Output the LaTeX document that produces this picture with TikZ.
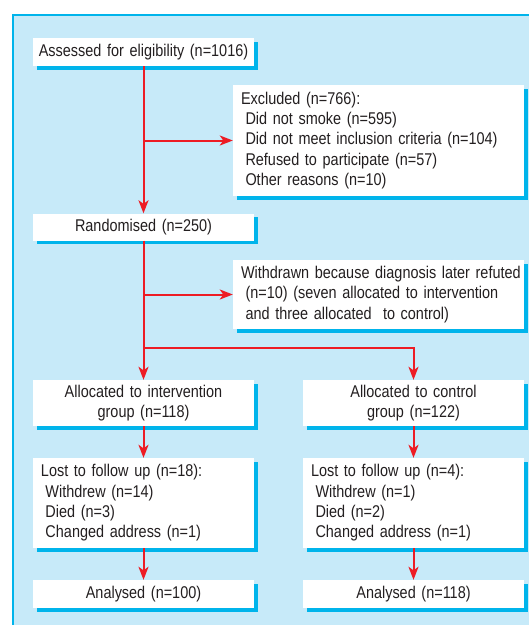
\documentclass[tikz,border=0pt]{standalone}
\usepackage{fontspec}
\setmainfont{Liberation Sans}[FakeStretch=0.85]
\usetikzlibrary{arrows.meta,shadows}
\definecolor{bgblue}{RGB}{199,234,249}
\definecolor{edgecyan}{RGB}{0,180,235}
\definecolor{flowred}{RGB}{237,28,36}
\definecolor{inkgrey}{RGB}{35,31,32}
\newcommand{\ind}{\hspace*{4.5pt}}
\hyphenpenalty=10000

\begin{document}
\begin{tikzpicture}[x=1pt,y=-1pt,
	box/.style={fill=white, inner ysep=0pt, text=inkgrey,
		font=\fontsize{17}{20.3}\selectfont,
		drop shadow={shadow xshift=4pt, shadow yshift=-3.5pt, fill=edgecyan, opacity=1}},
	narrowbox/.style={box, inner xsep=5pt, minimum width=221pt, text width=211pt, align=center},
	listbox/.style={box, inner xsep=8pt, minimum width=221pt, text width=205pt, align=left},
	widebox/.style={box, inner xsep=8pt, minimum width=291pt, text width=275pt, align=left},
	arr/.style={draw=flowred, line width=2pt, -{Stealth[length=13pt,width=10pt,inset=3.5pt]}}]
	% panel
	\useasboundingbox (0,0) rectangle (529,625);
	\fill[bgblue] (13,15) rectangle (529,625);
	\draw[edgecyan, line width=1.2pt] (13,625) -- (13,15) -- (529,15);
	% boxes
	\node[narrowbox, minimum height=28pt] (assess) at (143.5,52) {Assessed for eligibility (n=1016)};
	\node[widebox, minimum height=111pt] (excl) at (378.5,140.5) {Excluded (n=766):\\
		\ind Did not smoke (n=595)\\
		\ind Did not meet inclusion criteria (n=104)\\
		\ind Refused to participate (n=57)\\
		\ind Other reasons (n=10)};
	\node[narrowbox, minimum height=27pt] (rand) at (143.5,227) {Randomised (n=250)};
	\node[widebox, minimum height=69pt] (withdr) at (378.5,294.5) {\mbox{Withdrawn because diagnosis later refuted}\\
		\ind\mbox{(n=10) (seven allocated to intervention}\\
		\ind and three allocated\ \ to control)};
	\node[narrowbox, minimum height=46pt] (allocI) at (143.5,403) {Allocated to intervention\\group (n=118)};
	\node[narrowbox, minimum height=46pt] (allocC) at (413.5,403) {Allocated to control\\group (n=122)};
	\node[listbox, minimum height=90pt] (lostI) at (143.5,503) {Lost to follow up (n=18):\\
		\ind Withdrew (n=14)\\
		\ind Died (n=3)\\
		\ind Changed address (n=1)};
	\node[listbox, minimum height=90pt] (lostC) at (413.5,503) {Lost to follow up (n=4):\\
		\ind Withdrew (n=1)\\
		\ind Died (n=2)\\
		\ind Changed address (n=1)};
	\node[narrowbox, minimum height=28pt] (analI) at (143.5,594) {Analysed (n=100)};
	\node[narrowbox, minimum height=28pt] (analC) at (413.5,594) {Analysed (n=118)};
	% arrows
	\draw[arr] (assess) -- (rand);
	\draw[arr] (assess.south |- excl.west) -- (excl.west);
	\draw[arr] (rand) -- (allocI);
	\draw[arr] (rand.south |- withdr.west) -- (withdr.west);
	\coordinate (split) at (143.5,348);
	\draw[arr] (split) -| (allocC);
	\foreach \col in {I,C}
	{
		\draw[arr] (alloc\col) -- (lost\col);
		\draw[arr] (lost\col) -- (anal\col);
	}
\end{tikzpicture}
\end{document}
